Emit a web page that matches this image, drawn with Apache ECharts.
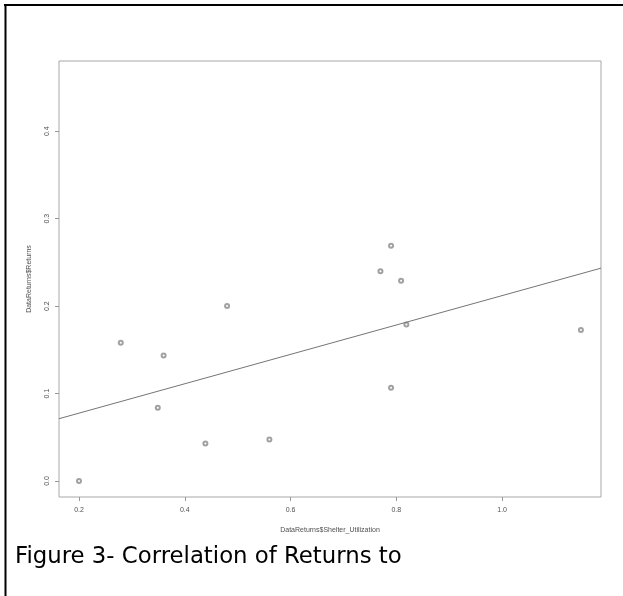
<!DOCTYPE html>
<html>
<head>
<meta charset="utf-8">
<script src="https://cdn.jsdelivr.net/npm/echarts@6/dist/echarts.min.js"></script>
<style>
html,body{margin:0;padding:0;background:#fff;}
#chart{width:623px;height:596px;}
</style>
</head>
<body>
<div id="chart"></div>
<script>
// Data
const shelterUtilization = [0.20, 0.279, 0.360, 0.349, 0.439, 0.480, 0.560, 0.770, 0.790, 0.809, 0.819, 0.790, 1.149];
const returnsValues      = [0.000, 0.158, 0.1435, 0.0838, 0.043, 0.200, 0.0475, 0.240, 0.269, 0.229, 0.179, 0.1066, 0.1726];
const xTicks = [0.2, 0.4, 0.6, 0.8, 1.0];
const yTicks = [0.0, 0.1, 0.2, 0.3, 0.4];
const xRange = [0.1622, 1.187];
const yRange = [-0.0183, 0.4803];
const fitIntercept = 0.0440;
const fitSlope = 0.168;
const xTitle = 'DataReturns$Shelter_Utilization';
const yTitle = 'DataReturns$Returns';
const caption = 'Figure 3- Correlation of Returns to';

const points = shelterUtilization.map((x, i) => [x, returnsValues[i]]);
const fitLine = xRange.map(x => [x, fitIntercept + fitSlope * x]);

const chart = echarts.init(document.getElementById('chart'), null, {renderer: 'canvas'});
const axisFont = {fontFamily: 'Liberation Sans, Arial, sans-serif', fontSize: 7, color: '#505050'};

chart.setOption({
  animation: false,
  backgroundColor: '#fff',
  grid: {left: 59, top: 61, width: 542, height: 436, show: true, borderColor: '#a8a8a8', borderWidth: 1, backgroundColor: 'transparent'},
  xAxis: {
    type: 'value', min: xRange[0], max: xRange[1],
    name: xTitle, nameLocation: 'middle', nameGap: 30,
    nameTextStyle: axisFont,
    axisLine: {show: false, onZero: false},
    splitLine: {show: false},
    axisTick: {show: true, inside: false, length: 4, customValues: xTicks, lineStyle: {color: '#999'}},
    axisLabel: {show: true, margin: 10, customValues: xTicks, formatter: v => v.toFixed(1), ...axisFont}
  },
  yAxis: {
    type: 'value', min: yRange[0], max: yRange[1],
    name: yTitle, nameLocation: 'middle', nameGap: 26, nameRotate: 90,
    nameTextStyle: axisFont,
    axisLine: {show: false, onZero: false},
    splitLine: {show: false},
    axisTick: {show: true, inside: false, length: 4, customValues: yTicks, lineStyle: {color: '#999'}},
    axisLabel: {show: true, margin: 8, rotate: 90, customValues: yTicks, formatter: v => v.toFixed(1), ...axisFont}
  },
  series: [
    {
      type: 'scatter', data: points, symbol: 'emptyCircle', symbolSize: 4,
      itemStyle: {color: '#8a8a8a', borderColor: '#8a8a8a', borderWidth: 0.6},
      silent: true
    },
    {
      type: 'line', data: fitLine, symbol: 'none',
      lineStyle: {color: '#757575', width: 1}, silent: true
    }
  ],
  graphic: [
    {type: 'rect', shape: {x: 4, y: 4, width: 619, height: 2}, style: {fill: '#000'}},
    {type: 'rect', shape: {x: 4.5, y: 4, width: 2, height: 592}, style: {fill: '#000'}},
    {type: 'text', left: 15, top: 546, style: {text: caption, fontFamily: 'DejaVu Sans, Verdana, sans-serif', fontSize: 22.8, fill: '#000'}}
  ]
});
</script>
</body>
</html>
